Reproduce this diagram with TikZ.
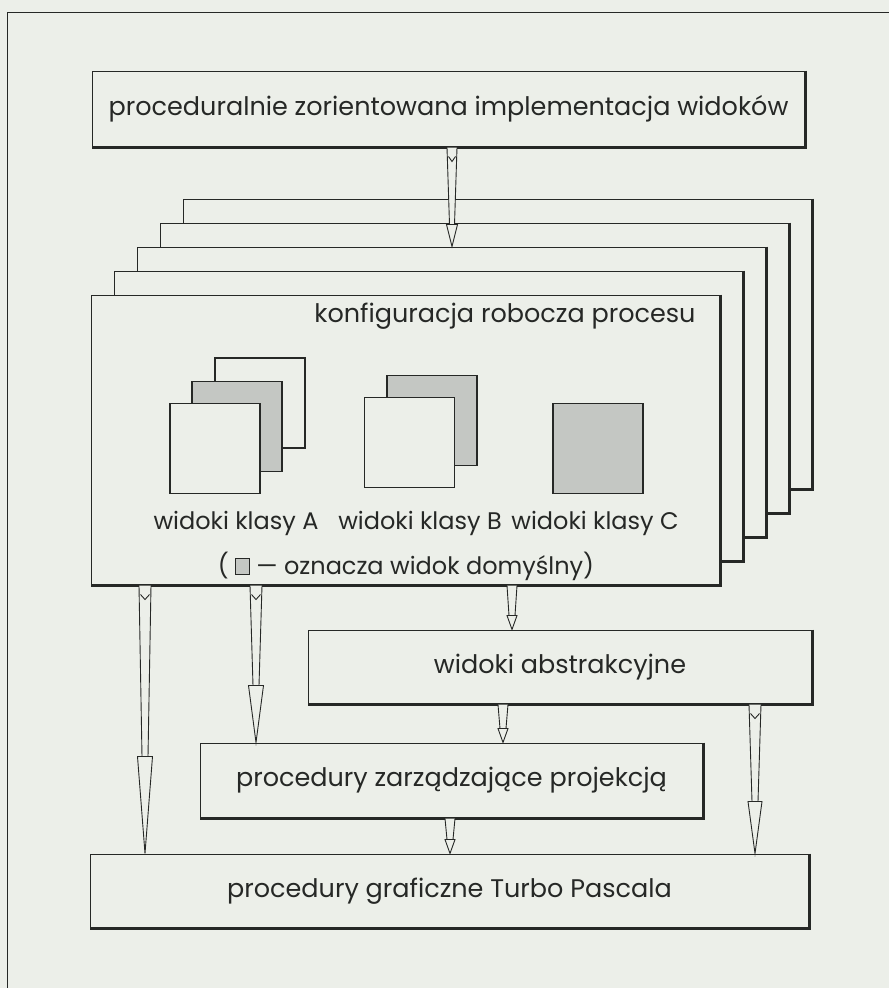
\documentclass[tikz,border=0pt]{standalone}
\usepackage{fontspec}
\setmainfont{Poppins}
\usetikzlibrary{calc}
\definecolor{paper}{RGB}{236,239,233}
\definecolor{ink}{RGB}{38,40,38}
\definecolor{shade}{RGB}{196,199,195}
\newcommand\defaultmark{\tikz[baseline=0pt]\draw[draw=ink,line width=0.8pt,fill=shade] (0pt,0pt) rectangle (14pt,16pt);}
\tikzset{
  panel/.style={draw=ink, line width=1pt, fill=paper, inner sep=0pt, rectangle, text=ink, font=\fontsize{25.5}{30}\selectfont},
  sedge/.style={draw=ink, line width=2.2pt},
  lbl/.style={text=ink, inner sep=0pt, font=\fontsize{25.5}{30}\selectfont},
  sublbl/.style={text=ink, inner sep=0pt, font=\fontsize{24}{28}\selectfont},
  viewsq/.style={draw=ink, line width=1.1pt, fill=paper, inner sep=0pt, minimum width=90pt, minimum height=90pt},
  viewgr/.style={viewsq, fill=shade},
  harrow/.style n args={4}{draw=ink, line width=0.9pt, fill=paper, to path={
    let \p1=(\tikztostart), \p2=(\tikztotarget) in
    (\x1-#1,\y1) -- (\x1-#2,\y2+#4) -- (\x1-#3,\y2+#4) -- (\x1,\y2) -- (\x1+#3,\y2+#4) -- (\x1+#2,\y2+#4) -- (\x1+#1,\y1)
    (\x1-#2,\y2+#4) -- (\x1+#2,\y2+#4)
  }},
  harrowv/.style n args={4}{draw=ink, line width=0.9pt, fill=paper, to path={
    let \p1=(\tikztostart), \p2=(\tikztotarget) in
    (\x1-#1,\y1) -- (\x1-#2,\y2+#4) -- (\x1-#3,\y2+#4) -- (\x1,\y2) -- (\x1+#3,\y2+#4) -- (\x1+#2,\y2+#4) -- (\x1+#1,\y1)
    (\x1-#2,\y2+#4) -- (\x1+#2,\y2+#4)
    (\x1-#1+1.5pt,\y1-9pt) -- (\x1,\y1-14pt) -- (\x1+#1-1.5pt,\y1-9pt)
  }},
}
\begin{document}
\begin{tikzpicture}[x=1pt,y=-1pt]
\useasboundingbox (0,0) rectangle (889,988);
\fill[paper] (0,0) rectangle (889,988);
% page frame
\draw[ink, line width=1pt] (7,988) -- (7,12) -- (889,12);

% top box
\node[panel, minimum width=713pt, minimum height=76pt] (top) at (448.5,109) {proceduralnie zorientowana implementacja widoków};
\draw[sedge] (top.north east) -- (top.south east) -- (top.south west);

% stack of process configurations
\node[panel, minimum width=629pt, minimum height=290pt] (L4) at (497.5,344) {};
\draw[sedge] (L4.north east) -- (L4.south east) -- (L4.south west);
\node[panel, minimum width=629pt, minimum height=290pt] (L3) at (474.5,368) {};
\draw[sedge] (L3.north east) -- (L3.south east) -- (L3.south west);
\node[panel, minimum width=629pt, minimum height=290pt] (L2) at (451.5,392) {};
\draw[sedge] (L2.north east) -- (L2.south east) -- (L2.south west);
\node[panel, minimum width=629pt, minimum height=290pt] (L1) at (428.5,416) {};
\draw[sedge] (L1.north east) -- (L1.south east) -- (L1.south west);
\node[panel, minimum width=629pt, minimum height=290pt] (main) at (405.5,440) {};
\draw[sedge] (main.north east) -- (main.south east) -- (main.south west);

\node[lbl] (konf) at (505,316) {konfiguracja robocza procesu};

% views
\node[viewsq] (A3) at (260,403) {};
\node[viewgr] (A2) at (237,426.5) {};
\node[viewsq] (A1) at (215,448.5) {};
\node[viewgr] (B2) at (432,420.5) {};
\node[viewsq] (B1) at (409.5,442.5) {};
\node[viewgr] (C1) at (598,448.5) {};

\node[sublbl] (la) at (236,523) {widoki klasy A};
\node[sublbl] (lb) at (420,523) {widoki klasy B};
\node[sublbl] (lc) at (595,523) {widoki klasy C};
\node[sublbl] (leg) at (406,566) {( \defaultmark{} — oznacza widok domyślny)};

% lower boxes
\node[panel, minimum width=504pt, minimum height=74pt] (abs) at (560,667) {widoki abstrakcyjne};
\draw[sedge] (abs.north east) -- (abs.south east) -- (abs.south west);
\node[panel, minimum width=503pt, minimum height=75pt] (proj) at (451.5,780.5) {procedury zarządzające projekcją};
\draw[sedge] (proj.north east) -- (proj.south east) -- (proj.south west);
\node[panel, minimum width=719pt, minimum height=74pt] (gfx) at (449.5,891) {procedury graficzne Turbo Pascala};
\draw[sedge] (gfx.north east) -- (gfx.south east) -- (gfx.south west);

% arrow columns
\coordinate (x1) at (452,0);
\coordinate (x2) at (145,0);
\coordinate (x3) at (256,0);
\coordinate (x4) at (512,0);
\coordinate (x5) at (503,0);
\coordinate (x6) at (755,0);
\coordinate (x7) at (450,0);

\draw[harrowv={5pt}{2.5pt}{5.5pt}{22pt}] (top.south -| x1) to (L2.north -| x1);
\draw[harrowv={6pt}{3pt}{7.5pt}{97pt}] (main.south -| x2) to (gfx.north -| x2);
\draw[harrowv={6pt}{3pt}{7.5pt}{57pt}] (main.south -| x3) to (proj.north -| x3);
\draw[harrow={5pt}{3pt}{5pt}{14pt}] (main.south -| x4) to (abs.north -| x4);
\draw[harrow={5pt}{3pt}{5pt}{14pt}] (abs.south -| x5) to (proj.north -| x5);
\draw[harrowv={6pt}{3pt}{7pt}{52pt}] (abs.south -| x6) to (gfx.north -| x6);
\draw[harrow={5pt}{3pt}{5pt}{14pt}] (proj.south -| x7) to (gfx.north -| x7);
\end{tikzpicture}
\end{document}
